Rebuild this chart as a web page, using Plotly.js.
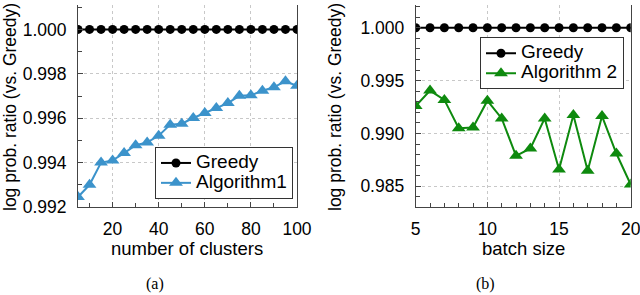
<!DOCTYPE html>
<html><head><meta charset="utf-8">
<script src="https://cdn.plot.ly/plotly-3.0.1.min.js"></script>
<style>html,body{margin:0;padding:0;background:#fff}#c{width:640px;height:295px}</style>
</head><body><div id="c"></div>
<script>
const clusters = [5,10,15,20,25,30,35,40,45,50,55,60,65,70,75,80,85,90,95,100];
const greedyA = [1,1,1,1,1,1,1,1,1,1,1,1,1,1,1,1,1,1,1,1];
const algo1 = [0.99245,0.9930,0.9940,0.99410,0.99443,0.99478,0.99491,0.99521,0.99571,0.99575,0.99601,0.99623,0.99646,0.99668,0.99701,0.99703,0.99724,0.9974,0.99766,0.99746];
const batch = [5,6,7,8,9,10,11,12,13,14,15,16,17,18,19,20];
const greedyB = [1,1,1,1,1,1,1,1,1,1,1,1,1,1,1,1];
const algo2 = [0.9926,0.99405,0.99317,0.9905,0.99057,0.9931,0.99142,0.98788,0.98858,0.99142,0.98659,0.99174,0.98646,0.99164,0.9881,0.98516];
const seriesNames = ['Greedy', 'Algorithm1', 'Greedy', 'Algorithm 2'];

const blue = '#3c93cb', green = '#0e8a0e';
const W = 640, H = 295;
const ff = 'Liberation Sans, Arial, Helvetica, sans-serif';
const tickFont = {family:ff, size:17.5, color:'#000'};
const titleFont = {family:ff, size:18.5, color:'#000'};
const yTitleFont = {family:ff, size:17.5, color:'#000'};
const legFont = {family:ff, size:13, color:'#000'};
const big = s => '<span style="font-size:19px">' + s + '</span>';

const traces = [
  {x:clusters, y:greedyA, name:big(seriesNames[0]), mode:'lines+markers', xaxis:'x', yaxis:'y', legend:'legend',
   line:{color:'#000', width:2}, marker:{symbol:'circle', size:9, color:'#000'}},
  {x:clusters, y:algo1, name:big(seriesNames[1]), mode:'lines+markers', xaxis:'x', yaxis:'y', legend:'legend',
   line:{color:blue, width:2}, marker:{symbol:'triangle-up', size:12, color:blue}},
  {x:batch, y:greedyB, name:big(seriesNames[2]), mode:'lines+markers', xaxis:'x2', yaxis:'y2', legend:'legend2',
   line:{color:'#000', width:2}, marker:{symbol:'circle', size:9, color:'#000'}},
  {x:batch, y:algo2, name:big(seriesNames[3]), mode:'lines+markers', xaxis:'x2', yaxis:'y2', legend:'legend2',
   line:{color:green, width:2}, marker:{symbol:'triangle-up', size:12, color:green}}
];

const yDom = [1-207/H, 1-5/H];
const common = {showline:true, linecolor:'#444', linewidth:1, ticks:'inside', ticklen:5, tickcolor:'#444',
  showgrid:true, gridcolor:'#c8c8c8', griddash:'dot', gridwidth:1, zeroline:false, tickfont:tickFont,
  ticklabeloverflow:'allow'};
const minorStyle = {ticks:'inside', ticklen:4, tickcolor:'#444', showgrid:false};

const layout = {
  width:W, height:H, margin:{l:0,r:0,t:0,b:0}, paper_bgcolor:'#fff', plot_bgcolor:'#fff',
  font:tickFont, showlegend:true,
  xaxis: Object.assign({}, common, {domain:[78/W, 297/W], range:[5,100], tickvals:[20,40,60,80,100],
    ticklabelstandoff:6, minor:Object.assign({dtick:10, tick0:0}, minorStyle), anchor:'y'}),
  yaxis: Object.assign({}, common, {domain:yDom, range:[0.992,1.0011], tickvals:[0.992,0.994,0.996,0.998,1.000],
    tickformat:'.3f', mirror:true, ticklabelstandoff:7, minor:Object.assign({dtick:0.001, tick0:0.992}, minorStyle), anchor:'x'}),
  xaxis2: Object.assign({}, common, {domain:[415.7/W, 630.7/W], range:[5,20], tickvals:[5,10,15,20],
    ticklabelstandoff:6, minor:Object.assign({dtick:1, tick0:5}, minorStyle), anchor:'y2'}),
  yaxis2: Object.assign({}, common, {domain:yDom, range:[0.98304,1.00215], tickvals:[0.985,0.990,0.995,1.000],
    tickformat:'.3f', mirror:true, ticklabelstandoff:7, minor:Object.assign({dtick:0.001, tick0:0.985}, minorStyle), anchor:'x2'}),
  legend: {x:293/W, xanchor:'right', y:1-199/H, yanchor:'bottom', bordercolor:'#333', borderwidth:1,
    bgcolor:'#fff', font:legFont, tracegroupgap:0, itemwidth:30},
  legend2: {x:624/W, xanchor:'right', y:1-37.3/H, yanchor:'top', bordercolor:'#333', borderwidth:1,
    bgcolor:'#fff', font:legFont, tracegroupgap:0, itemwidth:30},
  annotations: [
    {text:'log prob. ratio (vs. Greedy)', textangle:-90, xref:'paper', yref:'paper', x:10/W, y:1-107/H,
     showarrow:false, font:yTitleFont, xanchor:'center', yanchor:'middle'},
    {text:'log prob. ratio (vs. Greedy)', textangle:-90, xref:'paper', yref:'paper', x:335/W, y:1-107/H,
     showarrow:false, font:yTitleFont, xanchor:'center', yanchor:'middle'},
    {text:'number of clusters', xref:'paper', yref:'paper', x:187/W, y:1-248/H, showarrow:false, font:titleFont,
     xanchor:'center', yanchor:'middle'},
    {text:'batch size', xref:'paper', yref:'paper', x:523/W, y:1-248/H, showarrow:false, font:titleFont,
     xanchor:'center', yanchor:'middle'},
    {text:'(a)', xref:'paper', yref:'paper', x:155/W, y:1-284/H, showarrow:false,
     font:{family:'Liberation Serif, Times New Roman, serif', size:16, color:'#000'}, xanchor:'center', yanchor:'middle'},
    {text:'(b)', xref:'paper', yref:'paper', x:485/W, y:1-284/H, showarrow:false,
     font:{family:'Liberation Serif, Times New Roman, serif', size:16, color:'#000'}, xanchor:'center', yanchor:'middle'}
  ]
};

Plotly.newPlot('c', traces, layout, {displayModeBar:false, staticPlot:true});
</script></body></html>
